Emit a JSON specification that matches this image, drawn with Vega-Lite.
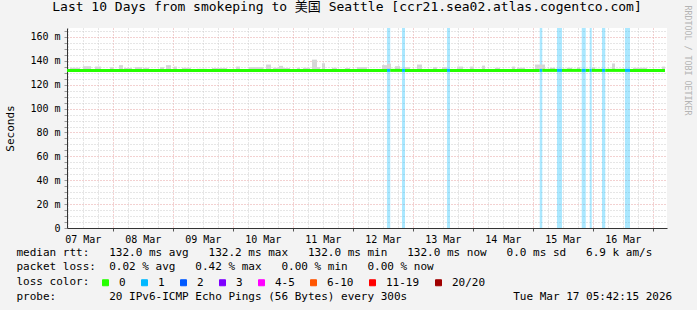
{
  "$schema": "https://vega.github.io/schema/vega-lite/v6.json",
  "width": 600,
  "height": 200,
  "autosize": "none",
  "padding": {"left": 67, "top": 28, "right": 30, "bottom": 82},
  "background": "#f3f3f3",
  "config": {
    "font": "DejaVu Sans Mono",
    "view": {"fill": "white", "stroke": null}
  },
  "title": {
    "text": "Last 10 Days from smokeping to 美国 Seattle [ccr21.sea02.atlas.cogentco.com]",
    "font": "DejaVu Sans Mono, Noto Sans CJK SC",
    "fontSize": 13,
    "fontWeight": "normal",
    "color": "black",
    "anchor": "middle",
    "baseline": "alphabetic",
    "offset": 4,
    "dx": -20,
    "dy": 23
  },
  "datasets": {
    "seg": [
      {"t0": "2026-03-07T05:42:15Z", "t1": "2026-03-12T13:42:00Z", "med": 132.0, "loss": "0"},
      {"t0": "2026-03-12T13:42:00Z", "t1": "2026-03-12T15:00:00Z", "med": 132.0, "loss": "1"},
      {"t0": "2026-03-12T15:00:00Z", "t1": "2026-03-12T19:42:00Z", "med": 132.0, "loss": "0"},
      {"t0": "2026-03-12T19:42:00Z", "t1": "2026-03-12T20:54:00Z", "med": 132.0, "loss": "1"},
      {"t0": "2026-03-12T20:54:00Z", "t1": "2026-03-13T13:42:00Z", "med": 132.0, "loss": "0"},
      {"t0": "2026-03-13T13:42:00Z", "t1": "2026-03-13T14:54:00Z", "med": 132.0, "loss": "1"},
      {"t0": "2026-03-13T14:54:00Z", "t1": "2026-03-15T02:48:00Z", "med": 132.0, "loss": "0"},
      {"t0": "2026-03-15T02:48:00Z", "t1": "2026-03-15T03:48:00Z", "med": 132.0, "loss": "1"},
      {"t0": "2026-03-15T03:48:00Z", "t1": "2026-03-15T09:42:00Z", "med": 132.0, "loss": "0"},
      {"t0": "2026-03-15T09:42:00Z", "t1": "2026-03-15T11:42:00Z", "med": 132.0, "loss": "1"},
      {"t0": "2026-03-15T11:42:00Z", "t1": "2026-03-15T19:36:00Z", "med": 132.0, "loss": "0"},
      {"t0": "2026-03-15T19:36:00Z", "t1": "2026-03-15T21:12:00Z", "med": 132.0, "loss": "1"},
      {"t0": "2026-03-15T21:12:00Z", "t1": "2026-03-15T22:48:00Z", "med": 132.0, "loss": "0"},
      {"t0": "2026-03-15T22:48:00Z", "t1": "2026-03-15T23:36:00Z", "med": 132.0, "loss": "1"},
      {"t0": "2026-03-15T23:36:00Z", "t1": "2026-03-16T03:42:00Z", "med": 132.0, "loss": "0"},
      {"t0": "2026-03-16T03:42:00Z", "t1": "2026-03-16T05:00:00Z", "med": 132.0, "loss": "1"},
      {"t0": "2026-03-16T05:00:00Z", "t1": "2026-03-16T12:54:00Z", "med": 132.0, "loss": "0"},
      {"t0": "2026-03-16T12:54:00Z", "t1": "2026-03-16T14:54:00Z", "med": 132.0, "loss": "1"},
      {"t0": "2026-03-16T14:54:00Z", "t1": "2026-03-17T04:54:00Z", "med": 132.0, "loss": "0"}
    ],
    "smoke": [
      {"t0": "2026-03-07T06:54:00Z", "t1": "2026-03-07T10:54:00Z", "lo": 132, "hi": 134.2},
      {"t0": "2026-03-07T12:06:00Z", "t1": "2026-03-07T15:18:00Z", "lo": 132, "hi": 135.5},
      {"t0": "2026-03-07T16:54:00Z", "t1": "2026-03-07T19:18:00Z", "lo": 132, "hi": 135.2},
      {"t0": "2026-03-07T22:54:00Z", "t1": "2026-03-08T00:06:00Z", "lo": 132, "hi": 134.7},
      {"t0": "2026-03-08T02:30:00Z", "t1": "2026-03-08T04:06:00Z", "lo": 132, "hi": 136.4},
      {"t0": "2026-03-08T04:30:00Z", "t1": "2026-03-08T07:42:00Z", "lo": 132, "hi": 134.0},
      {"t0": "2026-03-08T08:54:00Z", "t1": "2026-03-08T11:42:00Z", "lo": 132, "hi": 134.7},
      {"t0": "2026-03-08T12:06:00Z", "t1": "2026-03-08T14:30:00Z", "lo": 132, "hi": 134.2},
      {"t0": "2026-03-08T18:54:00Z", "t1": "2026-03-08T20:30:00Z", "lo": 132, "hi": 134.7},
      {"t0": "2026-03-08T21:18:00Z", "t1": "2026-03-08T23:18:00Z", "lo": 132, "hi": 136.4},
      {"t0": "2026-03-09T00:30:00Z", "t1": "2026-03-09T01:42:00Z", "lo": 132, "hi": 135.2},
      {"t0": "2026-03-09T03:42:00Z", "t1": "2026-03-09T07:18:00Z", "lo": 132, "hi": 134.2},
      {"t0": "2026-03-09T09:42:00Z", "t1": "2026-03-09T13:42:00Z", "lo": 132, "hi": 133.4},
      {"t0": "2026-03-09T15:42:00Z", "t1": "2026-03-09T21:42:00Z", "lo": 132, "hi": 134.0},
      {"t0": "2026-03-10T01:18:00Z", "t1": "2026-03-10T02:54:00Z", "lo": 132, "hi": 135.2},
      {"t0": "2026-03-10T06:30:00Z", "t1": "2026-03-10T12:06:00Z", "lo": 132, "hi": 134.7},
      {"t0": "2026-03-10T13:18:00Z", "t1": "2026-03-10T15:18:00Z", "lo": 132, "hi": 136.9},
      {"t0": "2026-03-10T16:06:00Z", "t1": "2026-03-10T18:30:00Z", "lo": 132, "hi": 134.2},
      {"t0": "2026-03-10T18:30:00Z", "t1": "2026-03-10T20:06:00Z", "lo": 132, "hi": 135.8},
      {"t0": "2026-03-10T20:06:00Z", "t1": "2026-03-10T22:54:00Z", "lo": 132, "hi": 134.0},
      {"t0": "2026-03-11T01:42:00Z", "t1": "2026-03-11T02:54:00Z", "lo": 132, "hi": 134.2},
      {"t0": "2026-03-11T04:06:00Z", "t1": "2026-03-11T06:54:00Z", "lo": 132, "hi": 134.2},
      {"t0": "2026-03-11T07:42:00Z", "t1": "2026-03-11T09:42:00Z", "lo": 132, "hi": 141.0},
      {"t0": "2026-03-11T09:42:00Z", "t1": "2026-03-11T10:54:00Z", "lo": 132, "hi": 134.7},
      {"t0": "2026-03-11T11:42:00Z", "t1": "2026-03-11T12:54:00Z", "lo": 132, "hi": 138.0},
      {"t0": "2026-03-11T15:42:00Z", "t1": "2026-03-11T17:42:00Z", "lo": 132, "hi": 134.2},
      {"t0": "2026-03-11T20:54:00Z", "t1": "2026-03-11T22:54:00Z", "lo": 132, "hi": 134.0},
      {"t0": "2026-03-12T01:42:00Z", "t1": "2026-03-12T05:42:00Z", "lo": 132, "hi": 134.7},
      {"t0": "2026-03-12T11:42:00Z", "t1": "2026-03-12T13:42:00Z", "lo": 132, "hi": 136.4},
      {"t0": "2026-03-12T13:42:00Z", "t1": "2026-03-12T15:18:00Z", "lo": 132, "hi": 137.6},
      {"t0": "2026-03-12T16:54:00Z", "t1": "2026-03-12T18:54:00Z", "lo": 132, "hi": 135.5},
      {"t0": "2026-03-12T20:54:00Z", "t1": "2026-03-12T22:54:00Z", "lo": 132, "hi": 134.7},
      {"t0": "2026-03-13T01:42:00Z", "t1": "2026-03-13T03:42:00Z", "lo": 132, "hi": 136.9},
      {"t0": "2026-03-13T08:06:00Z", "t1": "2026-03-13T09:42:00Z", "lo": 132, "hi": 134.7},
      {"t0": "2026-03-13T11:42:00Z", "t1": "2026-03-13T13:42:00Z", "lo": 132, "hi": 134.7},
      {"t0": "2026-03-13T17:42:00Z", "t1": "2026-03-13T20:06:00Z", "lo": 132, "hi": 135.2},
      {"t0": "2026-03-13T22:54:00Z", "t1": "2026-03-14T00:30:00Z", "lo": 132, "hi": 135.2},
      {"t0": "2026-03-14T03:42:00Z", "t1": "2026-03-14T04:54:00Z", "lo": 132, "hi": 136.0},
      {"t0": "2026-03-14T08:54:00Z", "t1": "2026-03-14T10:54:00Z", "lo": 132, "hi": 134.2},
      {"t0": "2026-03-14T15:42:00Z", "t1": "2026-03-14T16:54:00Z", "lo": 132, "hi": 135.2},
      {"t0": "2026-03-14T17:42:00Z", "t1": "2026-03-14T20:54:00Z", "lo": 132, "hi": 134.2},
      {"t0": "2026-03-15T00:54:00Z", "t1": "2026-03-15T04:54:00Z", "lo": 132, "hi": 136.9},
      {"t0": "2026-03-15T06:54:00Z", "t1": "2026-03-15T08:54:00Z", "lo": 132, "hi": 134.2},
      {"t0": "2026-03-15T13:42:00Z", "t1": "2026-03-15T15:42:00Z", "lo": 132, "hi": 134.2},
      {"t0": "2026-03-15T17:42:00Z", "t1": "2026-03-15T18:54:00Z", "lo": 132, "hi": 134.7},
      {"t0": "2026-03-15T23:42:00Z", "t1": "2026-03-16T00:54:00Z", "lo": 132, "hi": 134.7},
      {"t0": "2026-03-16T07:42:00Z", "t1": "2026-03-16T08:54:00Z", "lo": 132, "hi": 137.8},
      {"t0": "2026-03-16T16:06:00Z", "t1": "2026-03-16T21:42:00Z", "lo": 132, "hi": 134.2},
      {"t0": "2026-03-17T03:42:00Z", "t1": "2026-03-17T04:54:00Z", "lo": 132, "hi": 135.2}
    ]
  },
  "layer": [
    {
      "data": {"name": "seg"},
      "transform": [{"filter": "datum.loss !== '0'"}],
      "mark": {"type": "rect", "opacity": 0.33},
      "encoding": {
        "x": {"field": "t0", "type": "temporal"},
        "x2": {"field": "t1"},
        "color": {"field": "loss", "type": "nominal"}
      }
    },
    {
      "data": {"name": "smoke"},
      "mark": {"type": "rect", "color": "#d6d6d6"},
      "encoding": {
        "x": {"field": "t0", "type": "temporal"},
        "x2": {"field": "t1"},
        "y": {
          "field": "hi",
          "type": "quantitative",
          "axis": {
            "orient": "right",
            "title": "RRDTOOL / TOBI OETIKER",
            "labels": false,
            "ticks": false,
            "domain": false,
            "grid": false,
            "titleAngle": 90,
            "titleX": 19,
            "titleY": 32,
            "titleFont": "DejaVu Sans Mono",
            "titleFontSize": 8.3,
            "titleFontWeight": "normal",
            "titleColor": "#b4b4b4",
            "titleBaseline": "middle",
            "titleAlign": "center"
          }
        },
        "y2": {"field": "lo"}
      }
    },
    {
      "data": {"name": "seg"},
      "mark": {"type": "rule", "strokeWidth": 3, "strokeCap": "butt"},
      "encoding": {
        "x": {
          "field": "t0",
          "type": "temporal",
          "scale": {"type": "utc", "domain": [1772862135000, 1773726135000]},
          "axis": {
            "orient": "bottom",
            "tickCount": 40,
            "grid": true,
            "gridColor": {"condition": {"test": "utchours(datum.value) === 0", "value": "#e6a3a3"}, "value": "#cccccc"},
            "gridDash": [1, 2],
            "ticks": true,
            "tickSize": 3,
            "tickColor": "#555555",
            "tickOpacity": {"condition": {"test": "utchours(datum.value) === 0", "value": 1}, "value": 0},
            "domain": true,
            "domainColor": "#333333",
            "labelExpr": "utchours(datum.value) === 12 ? utcFormat(datum.value, '%d %b') : ''",
            "labelFont": "DejaVu Sans Mono",
            "labelFontSize": 10,
            "labelColor": "black",
            "labelPadding": 3,
            "labelFlush": false,
            "labelOverlap": false,
            "title": [
              "median rtt:\u00a0\u00a0\u00a0132.0 ms avg\u00a0\u00a0\u00a0132.2 ms max\u00a0\u00a0\u00a0132.0 ms min\u00a0\u00a0\u00a0132.0 ms now\u00a0\u00a0\u00a00.0 ms sd\u00a0\u00a0\u00a06.9 k am/s",
              "packet loss:\u00a0\u00a00.02 % avg\u00a0\u00a0\u00a00.42 % max\u00a0\u00a0\u00a00.00 % min\u00a0\u00a0\u00a00.00 % now",
              "loss color:",
              "probe:\u00a0\u00a0\u00a0\u00a0\u00a0\u00a0\u00a0\u00a020 IPv6-ICMP Echo Pings (56 Bytes) every 300s\u00a0\u00a0\u00a0\u00a0\u00a0\u00a0\u00a0\u00a0\u00a0\u00a0\u00a0\u00a0\u00a0\u00a0\u00a0\u00a0Tue Mar 17 05:42:15 2026"
            ],
            "titleFont": "DejaVu Sans Mono",
            "titleFontSize": 11,
            "titleFontWeight": "normal",
            "titleColor": "black",
            "titleAlign": "left",
            "titleAnchor": "start",
            "titleBaseline": "top",
            "titleLineHeight": 14.7,
            "titleX": -51,
            "titleY": 18
          }
        },
        "x2": {"field": "t1"},
        "y": {
          "field": "med",
          "type": "quantitative",
          "scale": {"domain": [0, 167.5], "nice": false, "zero": false},
          "axis": {
            "orient": "left",
            "values": [0, 5, 10, 15, 20, 25, 30, 35, 40, 45, 50, 55, 60, 65, 70, 75, 80, 85, 90, 95, 100, 105, 110, 115, 120, 125, 130, 135, 140, 145, 150, 155, 160, 165],
            "grid": true,
            "gridColor": {"condition": {"test": "datum.value % 20 === 0", "value": "#e6a3a3"}, "value": "#cccccc"},
            "gridDash": [1, 2],
            "ticks": true,
            "tickSize": 3,
            "tickColor": "#999999",
            "domain": true,
            "domainColor": "#333333",
            "labelExpr": "datum.value % 20 === 0 ? (datum.value === 0 ? '0' : datum.value + ' m') : ''",
            "labelFont": "DejaVu Sans Mono",
            "labelFontSize": 10,
            "labelColor": "black",
            "labelPadding": 4,
            "labelOverlap": false,
            "labelFlush": false,
            "title": "Seconds",
            "titleFont": "DejaVu Sans Mono",
            "titleFontSize": 11,
            "titleFontWeight": "normal",
            "titleColor": "black",
            "titleAngle": -90,
            "titleX": -57,
            "titleY": 100,
            "titleAlign": "center",
            "titleBaseline": "middle"
          }
        },
        "color": {
          "field": "loss",
          "type": "nominal",
          "scale": {
            "domain": ["0", "1", "2", "3", "4-5", "6-10", "11-19", "20/20"],
            "range": ["#26ff00", "#00b8ff", "#0059ff", "#7e00ff", "#ff00ff", "#ff5500", "#ff0000", "#a00000"]
          },
          "legend": {
            "orient": "none",
            "legendX": 33,
            "legendY": 249,
            "direction": "horizontal",
            "columns": 8,
            "title": null,
            "padding": 0,
            "symbolType": "square",
            "symbolSize": 36,
            "symbolStrokeWidth": 1,
            "symbolStrokeColor": "black",
            "symbolOpacity": 1,
            "labelFont": "DejaVu Sans Mono",
            "labelFontSize": 11,
            "labelColor": "black",
            "labelOffset": 8,
            "columnPadding": 13,
            "encode": {
              "symbols": {
                "update": {
                  "fill": {"scale": "color", "field": "value"},
                  "stroke": {"value": "black"},
                  "opacity": {"value": 1}
                }
              }
            }
          }
        }
      }
    }
  ],
  "resolve": {"axis": {"y": "independent"}}
}
